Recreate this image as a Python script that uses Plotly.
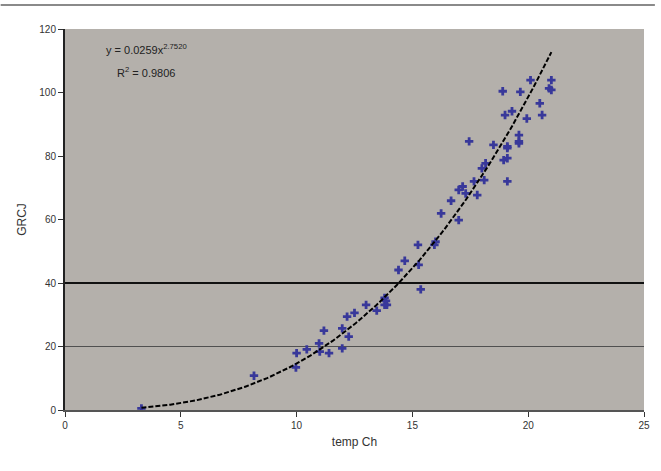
import numpy as np
import plotly.graph_objects as go

# Scatter data
x_vals = [3.3, 8.16, 9.97, 10.0, 10.44, 10.97, 11.0, 11.4, 11.18, 11.97, 11.97, 12.25,
          12.18, 12.5, 13.0, 13.46, 13.8, 13.8, 13.86, 13.9, 15.36, 14.4, 14.67, 15.24,
          15.27, 15.95, 16.0, 16.24, 16.67, 17.0, 17.0, 17.3, 17.17, 17.66, 17.8, 18.1,
          18.0, 18.16, 19.1, 18.94, 19.1, 19.1, 18.5, 17.45, 19.6, 19.1, 19.6, 19.6,
          19.0, 19.3, 19.94, 20.6, 20.5, 18.9, 19.66, 20.1, 21.0, 20.9, 21.0]
y_vals = [0.5, 10.8, 13.4, 17.9, 19.1, 21.0, 18.4, 17.9, 25.0, 19.4, 25.7, 23.1,
          29.4, 30.6, 33.1, 31.3, 33.1, 35.3, 34.4, 33.1, 38.0, 44.1, 47.0, 52.0,
          45.7, 52.0, 53.0, 61.9, 65.9, 59.8, 69.3, 68.2, 70.4, 72.0, 67.7, 72.4,
          76.1, 77.7, 72.0, 78.7, 79.3, 82.5, 83.5, 84.6, 84.0, 83.0, 86.6, 84.6,
          92.9, 94.1, 91.8, 92.9, 96.6, 100.4, 100.2, 103.9, 103.9, 101.3, 100.8]

x_ticks = [0, 5, 10, 15, 20, 25]
y_ticks = [0, 20, 40, 60, 80, 100, 120]
grid_dark = [40]
grid_light = [20]
x_title = "temp Ch"
y_title = "GRCJ"

# Power trendline fitted from the data (log-log least squares, like Excel)
xa = np.array(x_vals)
ya = np.array(y_vals)
lx, ly = np.log(xa), np.log(ya)
b, lna = np.polyfit(lx, ly, 1)
a = np.exp(lna)
pred = lna + b * lx
r2 = 1 - np.sum((ly - pred) ** 2) / np.sum((ly - ly.mean()) ** 2)
xt = np.linspace(xa.min(), xa.max(), 200)
yt = a * xt ** b

fig = go.Figure()
fig.add_trace(go.Scatter(x=x_vals, y=y_vals, mode="markers",
                         marker=dict(symbol="cross", size=7, color="#38389a"),
                         showlegend=False, hoverinfo="skip"))
fig.add_trace(go.Scatter(x=xt, y=yt, mode="lines",
                         line=dict(color="black", width=2, dash="5px,2px"),
                         showlegend=False, hoverinfo="skip"))

for g in grid_light:
    fig.add_hline(y=g, line=dict(color="#505050", width=1.2), layer="below")
for g in grid_dark:
    fig.add_hline(y=g, line=dict(color="#111111", width=2), layer="below")

fig.add_annotation(xref="paper", yref="paper", x=0.14, y=0.948, xanchor="center",
                   yanchor="middle", showarrow=False,
                   text=f"y = {a:.4f}x<sup>{b:.4f}</sup>",
                   font=dict(family="Arial, Liberation Sans", size=11, color="#222"))
fig.add_annotation(xref="paper", yref="paper", x=0.14, y=0.887, xanchor="center",
                   yanchor="middle", showarrow=False,
                   text=f"R<sup>2</sup> = {r2:.4f}",
                   font=dict(family="Arial, Liberation Sans", size=11, color="#222"))

fig.add_shape(type="line", xref="paper", yref="paper",
              x0=-65 / 585, x1=1 + 11 / 585, y0=1 + 24 / 381, y1=1 + 24 / 381,
              line=dict(color="#8a8a8a", width=2))

fig.update_xaxes(range=[0, 25], tickvals=x_ticks, ticks="outside", ticklen=5,
                 tickcolor="#333", showgrid=False, zeroline=False, showline=True,
                 linecolor="#555", linewidth=1.5, title=dict(text=x_title, standoff=8),
                 tickfont=dict(size=10, color="#333"))
fig.update_yaxes(range=[0, 120], tickvals=y_ticks, ticks="outside", ticklen=5,
                 tickcolor="#333", showgrid=False, zeroline=False, showline=True,
                 linecolor="#222", linewidth=2, title=dict(text=y_title, standoff=10),
                 tickfont=dict(size=10, color="#333"))

fig.update_layout(width=661, height=471,
                  margin=dict(l=65, r=11, t=29, b=61),
                  paper_bgcolor="white", plot_bgcolor="#b4b0ab",
                  font=dict(family="Arial, Liberation Sans", size=10, color="#333"))

fig.write_html("out.html")
